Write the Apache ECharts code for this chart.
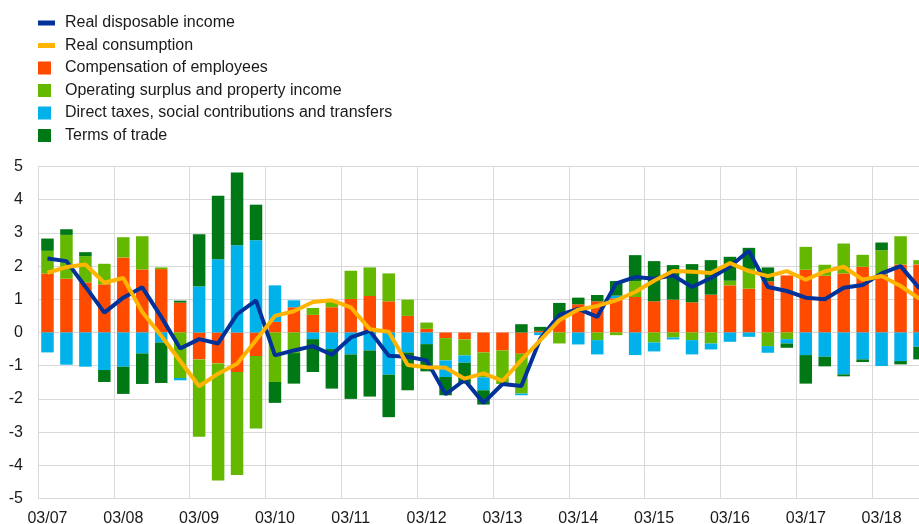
<!DOCTYPE html>
<html>
<head>
<meta charset="utf-8">
<script src="https://cdn.jsdelivr.net/npm/echarts@6/dist/echarts.min.js"></script>
<style>
html,body{margin:0;padding:0;background:#fff;overflow:hidden;}
#c{width:929px;height:524px;}
</style>
</head>
<body>
<div id="c"></div>
<script>
const categories = [
 "03/07","06/07","09/07","12/07","03/08","06/08","09/08","12/08",
 "03/09","06/09","09/09","12/09","03/10","06/10","09/10","12/10",
 "03/11","06/11","09/11","12/11","03/12","06/12","09/12","12/12",
 "03/13","06/13","09/13","12/13","03/14","06/14","09/14","12/14",
 "03/15","06/15","09/15","12/15","03/16","06/16","09/16","12/16",
 "03/17","06/17","09/17","12/17","03/18","06/18","09/18"
];
const yTicks = [-5,-4,-3,-2,-1,0,1,2,3,4,5];

const realDisposableIncome = [
 2.23, 2.15, 1.38, 0.60, 1.05, 1.36, 0.47, -0.48,
 -0.20, -0.33, 0.55, 0.97, -0.69, -0.54, -0.41, -0.67,
 -0.15, 0.05, -0.70, -0.73, -0.84, -1.86, -1.43, -2.12,
 -1.55, -1.61, -0.18, 0.53, 0.71, 0.47, 1.48, 1.67,
 1.62, 1.72, 1.37, 1.64, 1.99, 2.46, 1.37, 1.25,
 1.05, 1.00, 1.35, 1.43, 1.78, 2.00, 1.33
];
const realConsumption = [
 1.80, 1.97, 2.05, 1.50, 1.64, 0.62, -0.10, -0.86,
 -1.62, -1.24, -0.94, -0.23, 0.50, 0.64, 0.92, 0.97,
 0.76, 0.10, 0.02, -0.98, -1.05, -1.06, -1.39, -1.23,
 -1.46, -0.83, -0.23, 0.37, 0.69, 0.80, 0.97, 1.22,
 1.56, 1.85, 1.83, 1.79, 2.09, 1.85, 1.70, 1.85,
 1.59, 1.84, 1.98, 1.59, 1.70, 1.40, 1.01
];
const compensation = [
 1.78, 1.62, 1.51, 1.45, 2.26, 1.90, 1.91, 0.90,
 -0.81, -0.93, -1.19, -0.71, 0.32, 0.76, 0.53, 0.76,
 1.01, 1.10, 0.94, 0.50, 0.11, -0.17, -0.21, -0.60,
 -0.54, -0.64, 0.05, 0.40, 0.85, 0.94, 1.03, 1.07,
 0.94, 0.99, 0.91, 1.14, 1.42, 1.32, 1.54, 1.72,
 1.89, 1.71, 1.78, 1.98, 1.75, 2.05, 2.05
];
const operatingSurplus = [
 0.68, 1.32, 0.79, 0.62, 0.61, 1.00, 0.05, -1.37,
 -2.33, -3.53, -3.10, -2.18, -1.49, -0.62, 0.21, 0.21,
 0.85, 0.86, 0.84, 0.49, 0.19, -0.67, -0.48, -0.75,
 -1.01, -1.20, 0.00, -0.33, 0.00, -0.23, -0.08, 0.48,
 -0.30, -0.15, -0.23, -0.33, 0.14, 0.60, -0.41, -0.20,
 0.69, 0.33, 0.90, 0.36, 0.73, 0.85, 0.13
];
const directTaxes = [
 -0.60, -0.97, -1.03, -1.13, -1.03, -0.63, -0.30, -0.07,
 1.39, 2.21, 2.63, 2.78, 1.10, 0.21, -0.20, -0.50,
 -0.66, -0.54, -1.27, -0.60, -0.35, -0.50, -0.22, -0.39,
 0.00, -0.05, -0.08, 0.00, -0.36, -0.43, 0.08, -0.68,
 -0.27, -0.06, -0.43, -0.18, -0.28, -0.13, -0.20, -0.13,
 -0.68, -0.73, -1.26, -0.81, -1.01, -0.86, -0.43
];
const termsOfTrade = [
 0.37, 0.17, 0.12, -0.36, -0.82, -0.92, -1.22, 0.06,
 1.57, 1.91, 2.19, 1.07, -0.63, -0.92, -0.99, -1.19,
 -1.34, -1.39, -1.28, -1.14, -0.82, -0.55, -0.63, -0.43,
 0.00, 0.25, 0.12, 0.49, 0.20, 0.19, 0.44, 0.78,
 1.21, 1.04, 1.15, 1.04, 0.72, 0.63, 0.42, -0.13,
 -0.86, -0.29, -0.06, -0.08, 0.23, -0.10, -0.38
];

const FONT = "'Liberation Sans', Arial, sans-serif";
const chart = echarts.init(document.getElementById('c'), null, {renderer:'canvas'});

function bar(name, data, color){
  return {name, type:'bar', stack:'total', stackStrategy:'samesign', data,
    barWidth:'66%', itemStyle:{color}, z:2, emphasis:{disabled:true}};
}
function line(name, data, color){
  return {name, type:'line', data, symbol:'none', lineStyle:{color, width:4},
    itemStyle:{color}, z:5, emphasis:{disabled:true}};
}

chart.setOption({
  animation:false,
  textStyle:{fontFamily:FONT},
  legend:[
    {orient:'vertical', left:38, top:15, padding:0, itemWidth:17, itemHeight:5, itemGap:6.5,
     icon:'rect', data:['Real disposable income','Real consumption'],
     textStyle:{fontFamily:FONT, fontSize:16, color:'#1a1a1a', lineHeight:16, padding:[0,0,0,5]}},
    {orient:'vertical', left:38, top:60, padding:0, itemWidth:13, itemHeight:13, itemGap:6.5,
     icon:'rect', data:['Compensation of employees','Operating surplus and property income',
       'Direct taxes, social contributions and transfers','Terms of trade'],
     textStyle:{fontFamily:FONT, fontSize:16, color:'#1a1a1a', lineHeight:16, padding:[0,0,0,9]}}
  ],
  grid:{left:38, top:166.5, right:0, height:332, containLabel:false, outerBoundsMode:'none'},
  xAxis:{type:'category', data:categories, boundaryGap:true, position:'bottom',
    axisLine:{show:false, onZero:false}, axisTick:{show:false},
    axisLabel:{interval:3, fontSize:16, color:'#1a1a1a', fontFamily:FONT, margin:12},
    splitLine:{show:true, interval:3, lineStyle:{color:'#d9d9d9', width:1}}},
  yAxis:{type:'value', min:yTicks[0], max:yTicks[yTicks.length-1], interval:1,
    axisLine:{show:false}, axisTick:{show:false},
    axisLabel:{fontSize:16, color:'#1a1a1a', fontFamily:FONT, margin:15},
    splitLine:{show:true, lineStyle:{color:'#d9d9d9', width:1}}},
  series:[
    bar('Compensation of employees', compensation, '#FF4B00'),
    bar('Operating surplus and property income', operatingSurplus, '#65B800'),
    bar('Direct taxes, social contributions and transfers', directTaxes, '#00B1EA'),
    bar('Terms of trade', termsOfTrade, '#007816'),
    line('Real disposable income', realDisposableIncome, '#003299'),
    line('Real consumption', realConsumption, '#FFB400')
  ]
});
</script>
</body>
</html>
